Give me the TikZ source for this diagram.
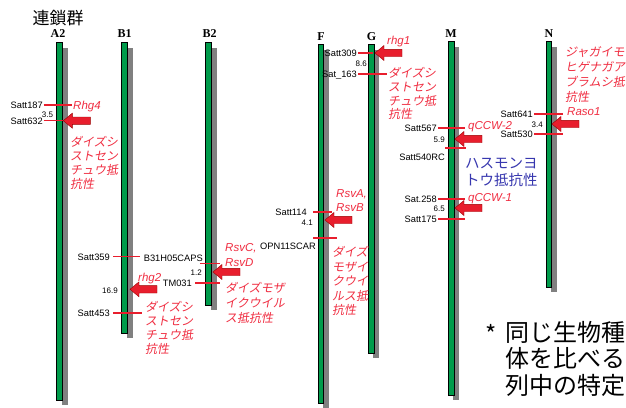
\documentclass[tikz,border=0pt]{standalone}
\usepackage{fontspec}
\setmainfont{Liberation Sans}
\newfontfamily\jp{Noto Sans CJK JP}
\newfontfamily\jps[FakeSlant=0.18]{Noto Sans CJK JP}
\newfontfamily\serifb{Liberation Serif}
\definecolor{mred}{RGB}{232,30,45}
\definecolor{tred}{RGB}{240,45,65}
\definecolor{cgreen}{RGB}{0,155,75}
\definecolor{cgray}{RGB}{128,128,128}
\definecolor{mblue}{RGB}{55,55,175}
\tikzset{
  chrlab/.style={font=\serifb\bfseries\fontsize{12}{12}\selectfont, inner sep=0},
  mk/.style={font=\fontsize{9.3}{10}\selectfont, inner sep=0, text height=6.7pt, text depth=0pt},
  num/.style={font=\fontsize{8}{9}\selectfont, inner sep=0, text height=5.8pt, text depth=0pt},
  gene/.style={font=\itshape\fontsize{11.5}{12}\selectfont, text=tred, inner sep=0, text height=8.3pt, text depth=0pt, anchor=west},
  jpred/.style={font=\jps\fontsize{12}{12}\selectfont, text=tred, inner sep=0, text height=10.56pt, text depth=1.44pt, anchor=west},
  jpblue/.style={font=\jp\fontsize{14.5}{14.5}\selectfont, text=mblue, inner sep=0, text height=12.76pt, text depth=1.74pt, anchor=west},
  jpnote/.style={font=\jp\fontsize{24}{24}\selectfont, text=black, inner sep=0, text height=21.1pt, text depth=2.9pt, anchor=west},
  mline/.style={draw=mred, line width=1.2pt},
  arr/.style={fill=mred, draw=red!60!black, line width=0.4pt},
  chrbar/.style={draw=black, fill=cgreen, line width=0.8pt},
  pics/larrow/.style={code={\path[arr] (0,0) -- (9,-7.5) -- (9,-3.7) -- (27,-3.7) -- (27,3.7) -- (9,3.7) -- (9,7.5) -- cycle;}}
}
\newcommand\chromo[4]{%
  \fill[cgray] (#1+5,#3+6) rectangle (#2+5,#4+5);
  \path[chrbar] (#1,#3) rectangle (#2,#4);}
\newcommand\jpblock[5]{%
  \foreach \t [count=\i from 0] in {#5} {\node[jpred] (#1\i) at (#2,#3+\i*#4) {\t};}}
\begin{document}
\begin{tikzpicture}[x=1pt,y=-1pt]
\useasboundingbox (0,0) rectangle (626,407);
\fill[white] (0,0) rectangle (626,407);

% title
\node[inner sep=0, font=\jp\fontsize{17}{17}\selectfont] (title) at (58,18.5) {連鎖群};

% chromosomes
\chromo{56.5}{62.5}{42}{400}
\chromo{121.7}{127.7}{42}{333}
\chromo{205.7}{211.7}{42}{305}
\chromo{318}{323.5}{44}{403}
\chromo{368.3}{374}{44}{353}
\chromo{448.3}{454}{41}{395}
\chromo{546}{551.7}{41}{287}

\node[chrlab] (lA2) at (58,34) {A2};
\node[chrlab] (lB1) at (124.7,34) {B1};
\node[chrlab] (lB2) at (209.5,34) {B2};
\node[chrlab] (lF) at (321,36.5) {F};
\node[chrlab] (lG) at (371.5,36.5) {G};
\node[chrlab] (lM) at (451,34) {M};
\node[chrlab] (lN) at (549,34) {N};

% ---- A2
\node[mk, anchor=east] (s187) at (43,105) {Satt187};
\draw[mline] (43.5,105) -- (72,105);
\node[gene] (rhg4) at (73,105) {Rhg4};
\node[num] (n35) at (47.5,115) {3.5};
\node[mk, anchor=east] (s632) at (43,121) {Satt632};
\draw[mline] (43.5,120.7) -- (63,120.7);
\pic at (63.3,120.7) {larrow};
\jpblock{a2j}{70}{141.7}{14.1}{ダイズシ,ストセン,チュウ抵,抗性}

% ---- B1
\node[mk, anchor=east] (s359) at (110,256.7) {Satt359};
\draw[mline] (113,256.7) -- (140,256.7);
\node[gene] (rhg2) at (138,277) {rhg2};
\node[num, anchor=east] (n169) at (118,291) {16.9};
\pic at (130,289.3) {larrow};
\node[mk, anchor=east] (s453) at (110,313) {Satt453};
\draw[mline] (113,313) -- (142,313);
\jpblock{b1j}{145}{306.7}{14.2}{ダイズシ,ストセン,チュウ抵,抗性}

% ---- B2
\node[mk, anchor=east] (b31) at (203,258) {B31H05CAPS};
\draw[mline] (200,263.3) -- (220,263.3);
\node[num, anchor=east] (n12) at (202,273) {1.2};
\pic at (213,272) {larrow};
\node[mk, anchor=east] (tm031) at (192,283) {TM031};
\draw[mline] (195,283) -- (220,283);
\node[gene] (rsvc) at (225,247) {RsvC,};
\node[gene] (rsvd) at (225,262) {RsvD};
\jpblock{b2j}{225}{288}{15}{ダイズモザ,イクウイル,ス抵抗性}

% ---- F
\node[mk, anchor=east] (s114) at (307,212) {Satt114};
\draw[mline] (313,212) -- (332,212);
\node[num, anchor=east] (n41) at (313,223) {4.1};
\pic at (325,220) {larrow};
\node[gene] (rsva) at (336,193) {RsvA,};
\node[gene] (rsvb) at (336,207) {RsvB};
\node[mk, anchor=east] (opn) at (316,246) {OPN11SCAR};
\draw[mline] (313,238) -- (337,238);
\jpblock{fj}{332}{252}{14.5}{ダイズ,モザイ,クウイ,ルス抵,抗性}

% ---- G
\node[mk, anchor=east] (s309) at (357,53) {Satt309};
\draw[mline] (358,53) -- (373,53);
\pic at (375,53) {larrow};
\node[gene] (rhg1) at (387,40) {rhg1};
\node[num, anchor=east] (n86) at (367,64) {8.6};
\node[mk, anchor=east] (s163) at (357,74) {Sat\_163};
\draw[mline] (358,74) -- (387,74);
\jpblock{gj}{388}{73}{13.8}{ダイズシ,ストセン,チュウ抵,抗性}

% ---- M
\node[mk, anchor=east] (s567) at (437,128) {Satt567};
\draw[mline] (438,128) -- (465,128);
\node[gene] (qccw2) at (468,125) {qCCW-2};
\node[num, anchor=east] (n59) at (445,140) {5.9};
\pic at (455,139) {larrow};
\draw[mline] (445,148) -- (466,148);
\node[mk, anchor=east] (s540) at (445,157) {Satt540RC};
\node[jpblue] (hasu1) at (465,163) {ハスモンヨ};
\node[jpblue] (hasu2) at (465,180) {トウ抵抗性};
\node[mk, anchor=east] (s258) at (437,199) {Sat.258};
\draw[mline] (438,199) -- (465,199);
\node[gene] (qccw1) at (468,197) {qCCW-1};
\node[num, anchor=east] (n65) at (445,209) {6.5};
\pic at (455,208) {larrow};
\node[mk, anchor=east] (s175) at (437,219) {Satt175};
\draw[mline] (438,219) -- (465,219);

% ---- N
\node[mk, anchor=east] (s641) at (533,114) {Satt641};
\draw[mline] (534,114) -- (563,114);
\node[gene] (raso1) at (567,111) {Raso1};
\node[num, anchor=east] (n34) at (543,125) {3.4};
\pic at (552,124) {larrow};
\node[mk, anchor=east] (s530) at (533,134) {Satt530};
\draw[mline] (534,134) -- (563,134);
\jpblock{nj}{565}{52}{15}{ジャガイモ,ヒゲナガア,ブラムシ抵,抗性}

% ---- note
\node[inner sep=0, font=\jp\fontsize{24}{24}\selectfont] (star) at (491,334) {*};
\node[jpnote] (note1) at (505,332) {同じ生物種};
\node[jpnote] (note2) at (505,358.5) {体を比べる};
\node[jpnote] (note3) at (505,385) {列中の特定};
\end{tikzpicture}
\end{document}
